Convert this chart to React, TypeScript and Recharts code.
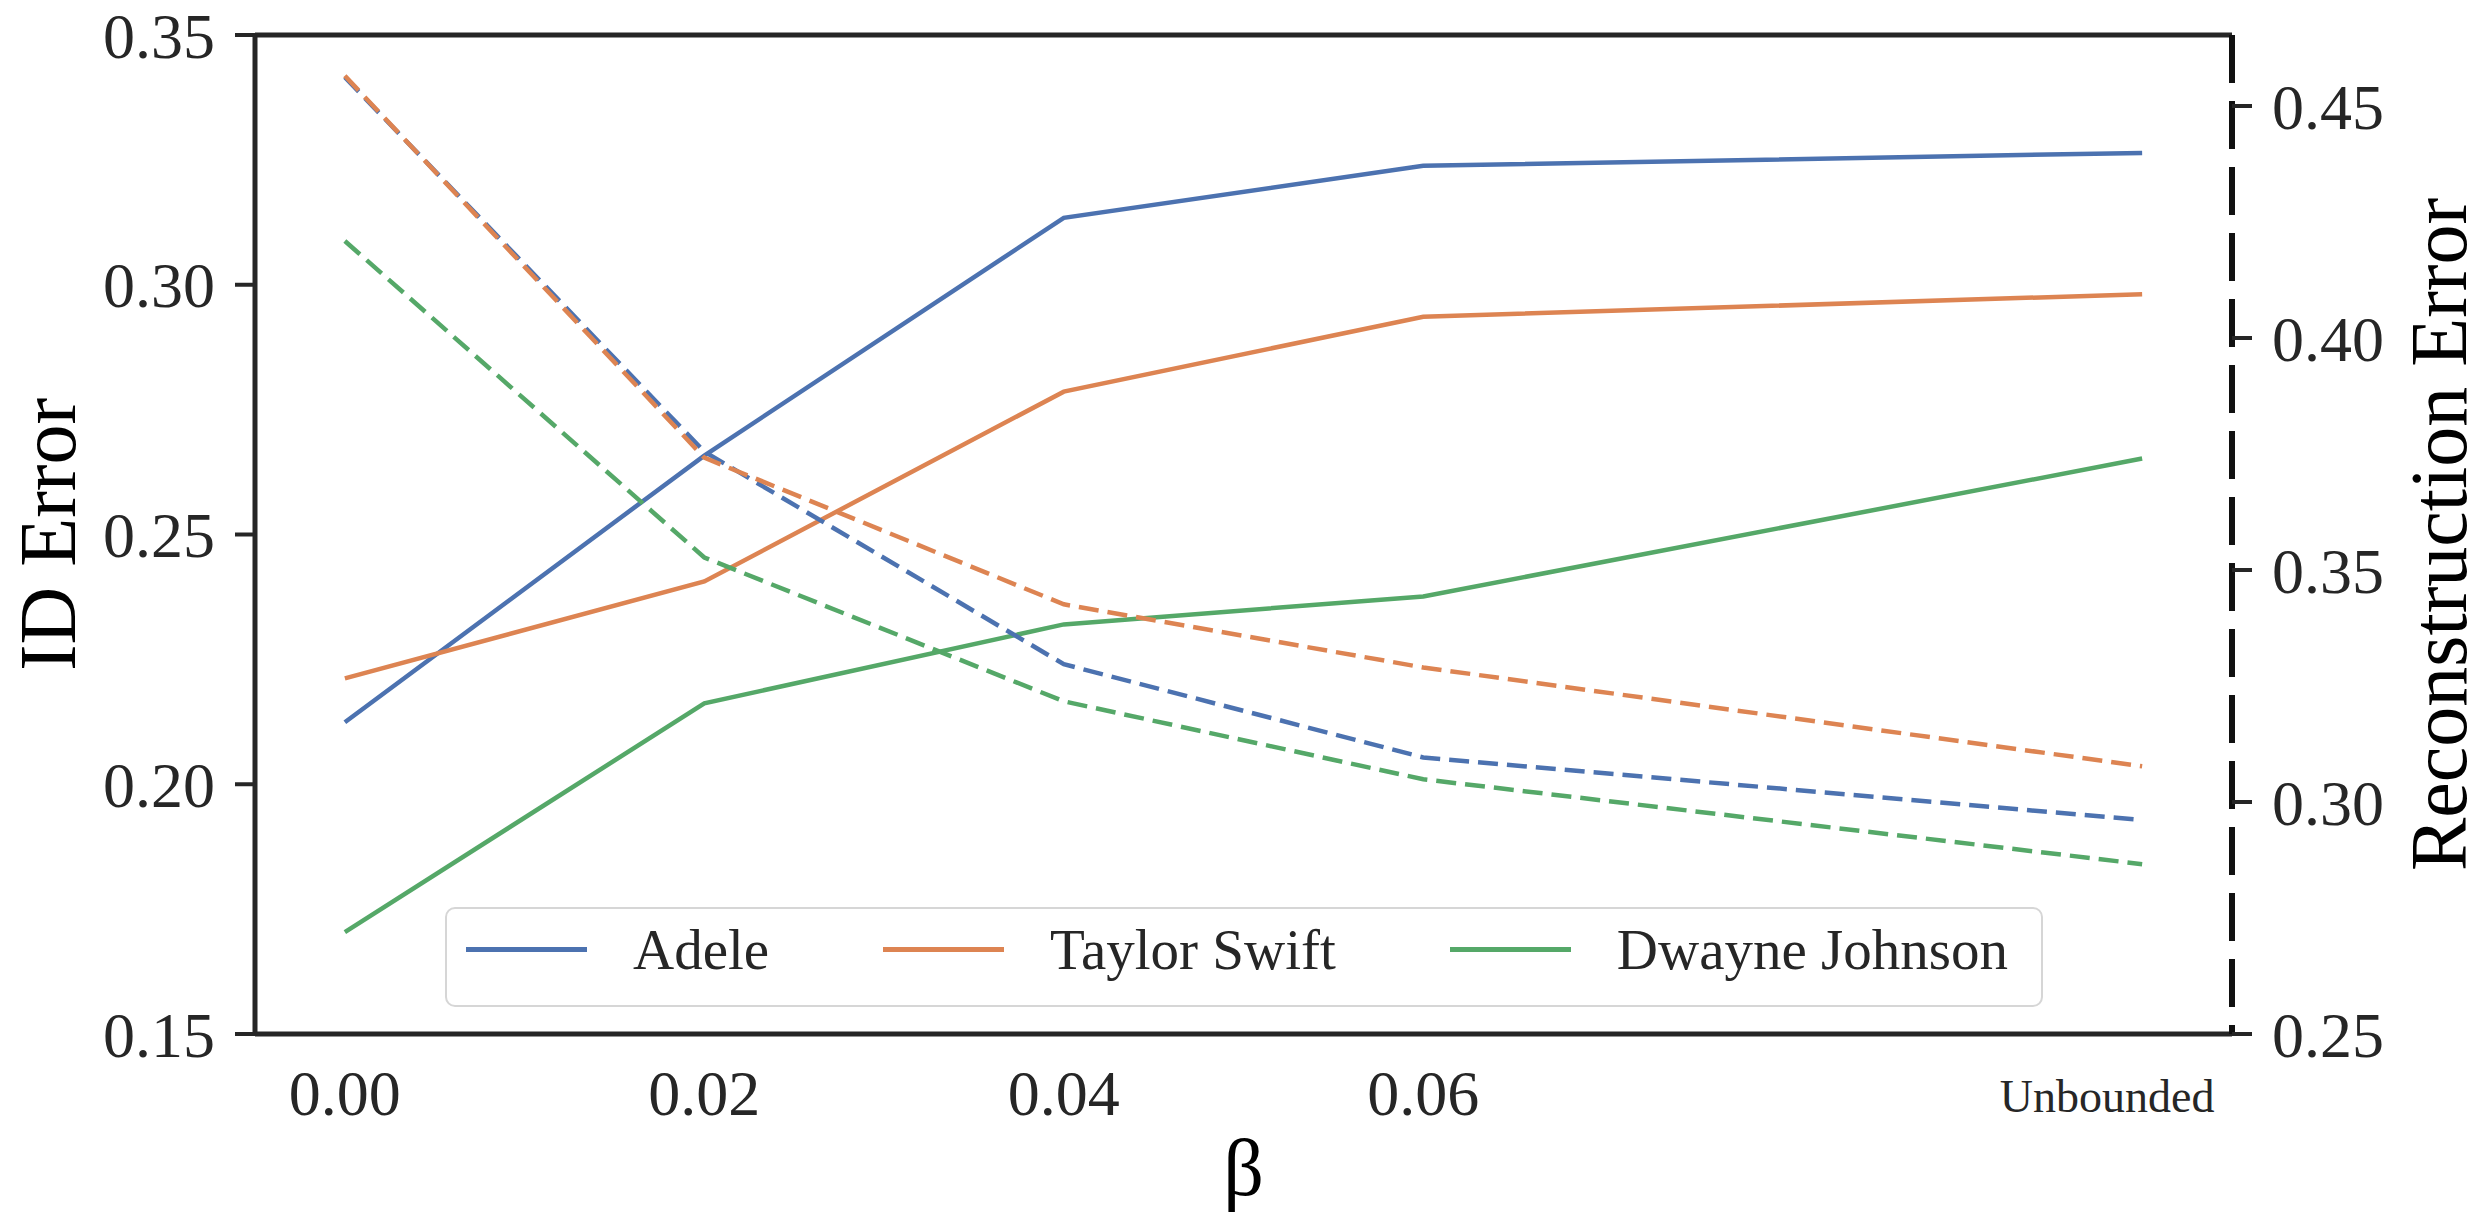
import React from "react";
import { Legend, Line, LineChart, ReferenceLine, XAxis, YAxis } from "recharts";

// beta settings on the x axis ("Unbounded" sits at 0.1)
const betaValues = [0, 0.02, 0.04, 0.06, 0.1];
const betaLabels = ["0.00", "0.02", "0.04", "0.06", "Unbounded"];

const personNames = ["Adele", "Taylor Swift", "Dwayne Johnson"];

// ID error (left axis, solid)
const adeleId = [0.2124, 0.2658, 0.3134, 0.3238, 0.3264];
const taylorId = [0.2212, 0.2406, 0.2786, 0.2936, 0.2981];
const dwayneId = [0.1704, 0.2162, 0.232, 0.2376, 0.2652];

// reconstruction error (right axis, dashed)
const adeleRecon = [0.4562, 0.3755, 0.3297, 0.3096, 0.2961];
const taylorRecon = [0.4565, 0.3742, 0.3426, 0.329, 0.3077];
const dwayneRecon = [0.4209, 0.3527, 0.3217, 0.3049, 0.2866];

const idTicks = [0.15, 0.2, 0.25, 0.3, 0.35];
const reconTicks = [0.25, 0.3, 0.35, 0.4, 0.45];

const data = betaValues.map((beta, i) => ({
  beta,
  adeleId: adeleId[i],
  taylorId: taylorId[i],
  dwayneId: dwayneId[i],
  adeleRecon: adeleRecon[i],
  taylorRecon: taylorRecon[i],
  dwayneRecon: dwayneRecon[i],
}));

const FONT = '"Liberation Serif", "Times New Roman", serif';
const INK = "#262626";
const COLORS = ["#4C72B0", "#DD8452", "#55A868"];
const DASH = "20 9";
const LW = 4.5;

const XTick = (props: any) => {
  const { x, y, payload } = props;
  const i = betaValues.indexOf(payload.value);
  const label = i >= 0 ? betaLabels[i] : String(payload.value);
  const small = label === "Unbounded";
  return (
    <text
      x={small ? x - 35 : x}
      y={y + (small ? 78 : 81)}
      textAnchor="middle"
      fontFamily={FONT}
      fontSize={small ? 46 : 64}
      fill={INK}
    >
      {label}
    </text>
  );
};

const leftLabel = (p: any) => {
  const vb = p.viewBox;
  const cx = vb.x + 75;
  const cy = vb.y + vb.height / 2;
  return (
    <text x={cx} y={cy} transform={`rotate(-90 ${cx} ${cy})`} textAnchor="middle" fontFamily={FONT} fontSize={80} fill="#000">
      ID Error
    </text>
  );
};

const rightLabel = (p: any) => {
  const vb = p.viewBox;
  const cx = vb.x + 234;
  const cy = vb.y + vb.height / 2;
  return (
    <text x={cx} y={cy} transform={`rotate(-90 ${cx} ${cy})`} textAnchor="middle" fontFamily={FONT} fontSize={80} fill="#000">
      Reconstruction Error
    </text>
  );
};

const betaLabel = (p: any) => {
  const vb = p.viewBox;
  return (
    <text x={vb.x + vb.width / 2} y={vb.y + 161} textAnchor="middle" fontFamily={FONT} fontSize={80} fill="#000">
      β
    </text>
  );
};

const LegendBox = (props: any) => {
  const items = (props.payload || [])
    .filter((e: any) => e.type !== "none" && personNames.includes(e.value))
    .sort((a: any, b: any) => personNames.indexOf(a.value) - personNames.indexOf(b.value));
  return (
    <div
      style={{
        boxSizing: "border-box",
        width: "100%",
        height: "100%",
        border: "2px solid #d6d6d6",
        borderRadius: 10,
        background: "rgba(255,255,255,0.8)",
        display: "flex",
        alignItems: "center",
        paddingLeft: 19,
        paddingBottom: 16,
        fontFamily: FONT,
        fontSize: 57,
        color: INK,
      }}
    >
      {items.map((e: any, i: number) => (
        <div key={e.value} style={{ display: "flex", alignItems: "center", marginLeft: i === 0 ? 0 : 114 }}>
          <span style={{ display: "inline-block", width: 121, height: 5, background: e.color, marginRight: 46 }} />
          <span style={{ lineHeight: "57px", whiteSpace: "nowrap" }}>{e.value}</span>
        </div>
      ))}
    </div>
  );
};

export default function App() {
  return (
    <div style={{ position: "absolute", left: 0, top: 0, background: "#fff" }}>
      <LineChart width={2484} height={1225} data={data} margin={{ top: 35, right: 0, bottom: 0, left: 0 }}>
        <XAxis
          dataKey="beta"
          type="number"
          domain={[-0.005, 0.105]}
          allowDataOverflow
          ticks={betaValues}
          interval={0}
          height={191}
          tickLine={false}
          tickSize={0}
          tickMargin={0}
          axisLine={{ stroke: INK, strokeWidth: 5 }}
          tick={XTick}
          label={betaLabel}
        />
        <YAxis
          yAxisId="left"
          orientation="left"
          width={255}
          domain={[0.15, 0.35]}
          ticks={idTicks}
          interval={0}
          tickFormatter={(v: number) => v.toFixed(2)}
          tickSize={20}
          tickMargin={20}
          tickLine={{ stroke: INK, strokeWidth: 4 }}
          axisLine={{ stroke: INK, strokeWidth: 5 }}
          tick={{ fontSize: 64, fill: INK, fontFamily: FONT }}
          label={leftLabel}
        />
        <YAxis
          yAxisId="right"
          orientation="right"
          width={252}
          domain={[0.25, 0.4653]}
          ticks={reconTicks}
          interval={0}
          tickFormatter={(v: number) => v.toFixed(2)}
          tickSize={20}
          tickMargin={20}
          tickLine={{ stroke: INK, strokeWidth: 4 }}
          axisLine={{ stroke: "#111", strokeWidth: 6, strokeDasharray: "48 18" }}
          tick={{ fontSize: 64, fill: INK, fontFamily: FONT }}
          label={rightLabel}
        />
        <ReferenceLine yAxisId="left" y={0.35} stroke={INK} strokeWidth={5} />

        <Line yAxisId="left" dataKey="adeleId" name={personNames[0]} stroke={COLORS[0]} strokeWidth={LW} dot={false} activeDot={false} isAnimationActive={false} />
        <Line yAxisId="left" dataKey="taylorId" name={personNames[1]} stroke={COLORS[1]} strokeWidth={LW} dot={false} activeDot={false} isAnimationActive={false} />
        <Line yAxisId="left" dataKey="dwayneId" name={personNames[2]} stroke={COLORS[2]} strokeWidth={LW} dot={false} activeDot={false} isAnimationActive={false} />

        <Line yAxisId="right" dataKey="adeleRecon" name="Adele (recon)" legendType="none" stroke={COLORS[0]} strokeWidth={LW} strokeDasharray={DASH} dot={false} activeDot={false} isAnimationActive={false} />
        <Line yAxisId="right" dataKey="taylorRecon" name="Taylor Swift (recon)" legendType="none" stroke={COLORS[1]} strokeWidth={LW} strokeDasharray={DASH} dot={false} activeDot={false} isAnimationActive={false} />
        <Line yAxisId="right" dataKey="dwayneRecon" name="Dwayne Johnson (recon)" legendType="none" stroke={COLORS[2]} strokeWidth={LW} strokeDasharray={DASH} dot={false} activeDot={false} isAnimationActive={false} />

        <Legend
          layout="vertical"
          align="center"
          verticalAlign="middle"
          width={1598}
          height={100}
          wrapperStyle={{ left: 445, top: 907, width: 1598, height: 100 }}
          content={LegendBox}
        />
      </LineChart>
    </div>
  );
}
